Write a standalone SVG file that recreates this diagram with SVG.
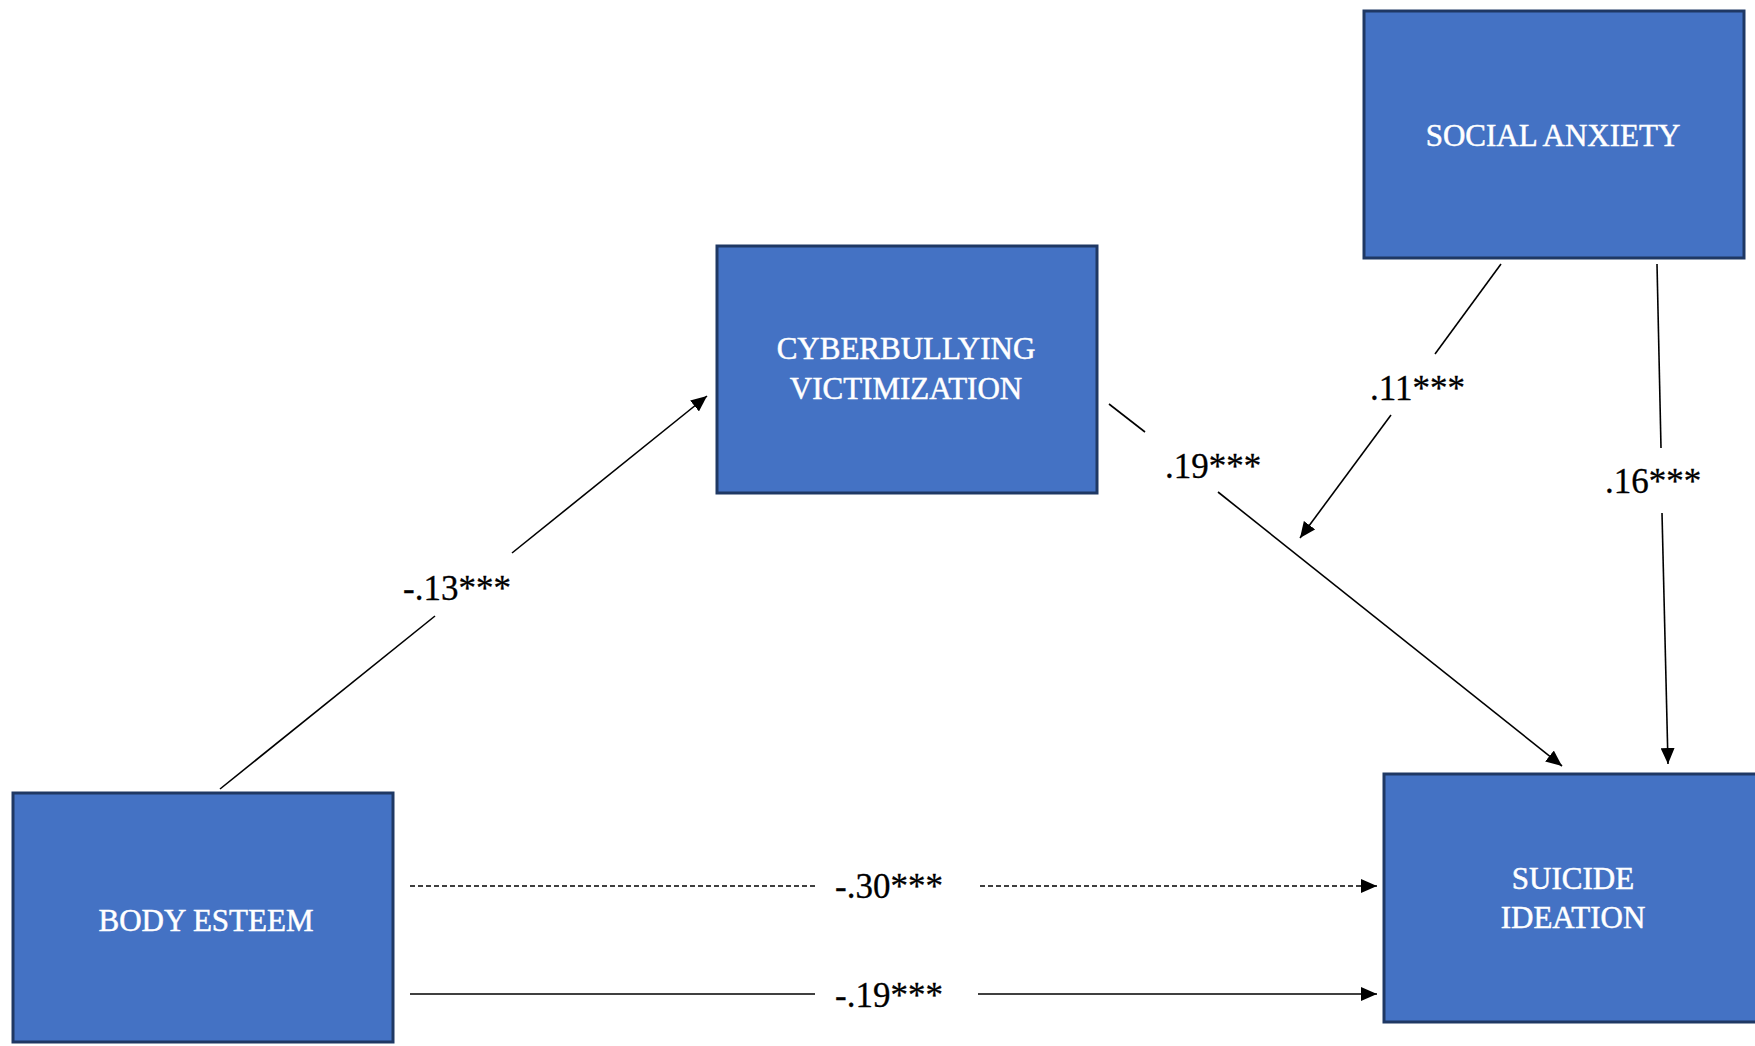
<svg xmlns="http://www.w3.org/2000/svg" width="1755" height="1046" viewBox="0 0 1755 1046">
<defs>
<style>
.box{fill:#4472C4;stroke:#1F3864;stroke-width:3}
.nt{font-family:"Liberation Serif",serif;font-size:31px;fill:#fff;stroke:#fff;stroke-width:0.5;text-anchor:middle}
.lbl{font-family:"Liberation Serif",serif;font-size:35px;fill:#000;stroke:#000;stroke-width:0.3}
.ln{stroke:#000;stroke-width:1.6;fill:none}
.dash{stroke-dasharray:5 3}
</style>
<marker id="ah" markerUnits="userSpaceOnUse" markerWidth="18" markerHeight="14" refX="16" refY="7" orient="auto">
<path d="M0,0 L16,7 L0,14 Z" fill="#000"/>
</marker>
</defs>
<rect width="1755" height="1046" fill="#fff"/>
<g id="social-anxiety">
<rect class="box" x="1364" y="11" width="380" height="247"/>
<text class="nt" x="1553" y="146">SOCIAL ANXIETY</text>
</g>
<g id="cyberbullying">
<rect class="box" x="717" y="246" width="380" height="247"/>
<text class="nt" x="906" y="359">CYBERBULLYING</text>
<text class="nt" x="906" y="399">VICTIMIZATION</text>
</g>
<g id="body-esteem">
<rect class="box" x="13" y="793" width="380" height="249"/>
<text class="nt" x="206" y="931">BODY ESTEEM</text>
</g>
<g id="suicide-ideation">
<rect class="box" x="1384" y="774" width="385" height="248"/>
<text class="nt" x="1573" y="889">SUICIDE</text>
<text class="nt" x="1573" y="928">IDEATION</text>
</g>
<g id="connectors">
<line class="ln" x1="220" y1="789" x2="435" y2="616"/>
<line class="ln" x1="512" y1="553" x2="707" y2="396" marker-end="url(#ah)"/>
<text class="lbl" x="403" y="600">-.13***</text>
<line class="ln" x1="1109" y1="404" x2="1145" y2="432"/>
<line class="ln" x1="1218" y1="492" x2="1562" y2="766" marker-end="url(#ah)"/>
<text class="lbl" x="1165" y="478">.19***</text>
<line class="ln" x1="1501" y1="264" x2="1435" y2="354"/>
<line class="ln" x1="1391" y1="415" x2="1300" y2="538" marker-end="url(#ah)"/>
<text class="lbl" x="1370" y="400">.11***</text>
<line class="ln" x1="1657" y1="264" x2="1661" y2="448"/>
<line class="ln" x1="1662" y1="513" x2="1668" y2="764" marker-end="url(#ah)"/>
<text class="lbl" x="1605" y="493">.16***</text>
<line class="ln dash" x1="410" y1="886" x2="815" y2="886"/>
<line class="ln dash" x1="980" y1="886" x2="1377" y2="886" marker-end="url(#ah)"/>
<text class="lbl" x="835" y="898">-.30***</text>
<line class="ln" x1="410" y1="994" x2="815" y2="994"/>
<line class="ln" x1="978" y1="994" x2="1377" y2="994" marker-end="url(#ah)"/>
<text class="lbl" x="835" y="1007">-.19***</text>
</g>
</svg>
